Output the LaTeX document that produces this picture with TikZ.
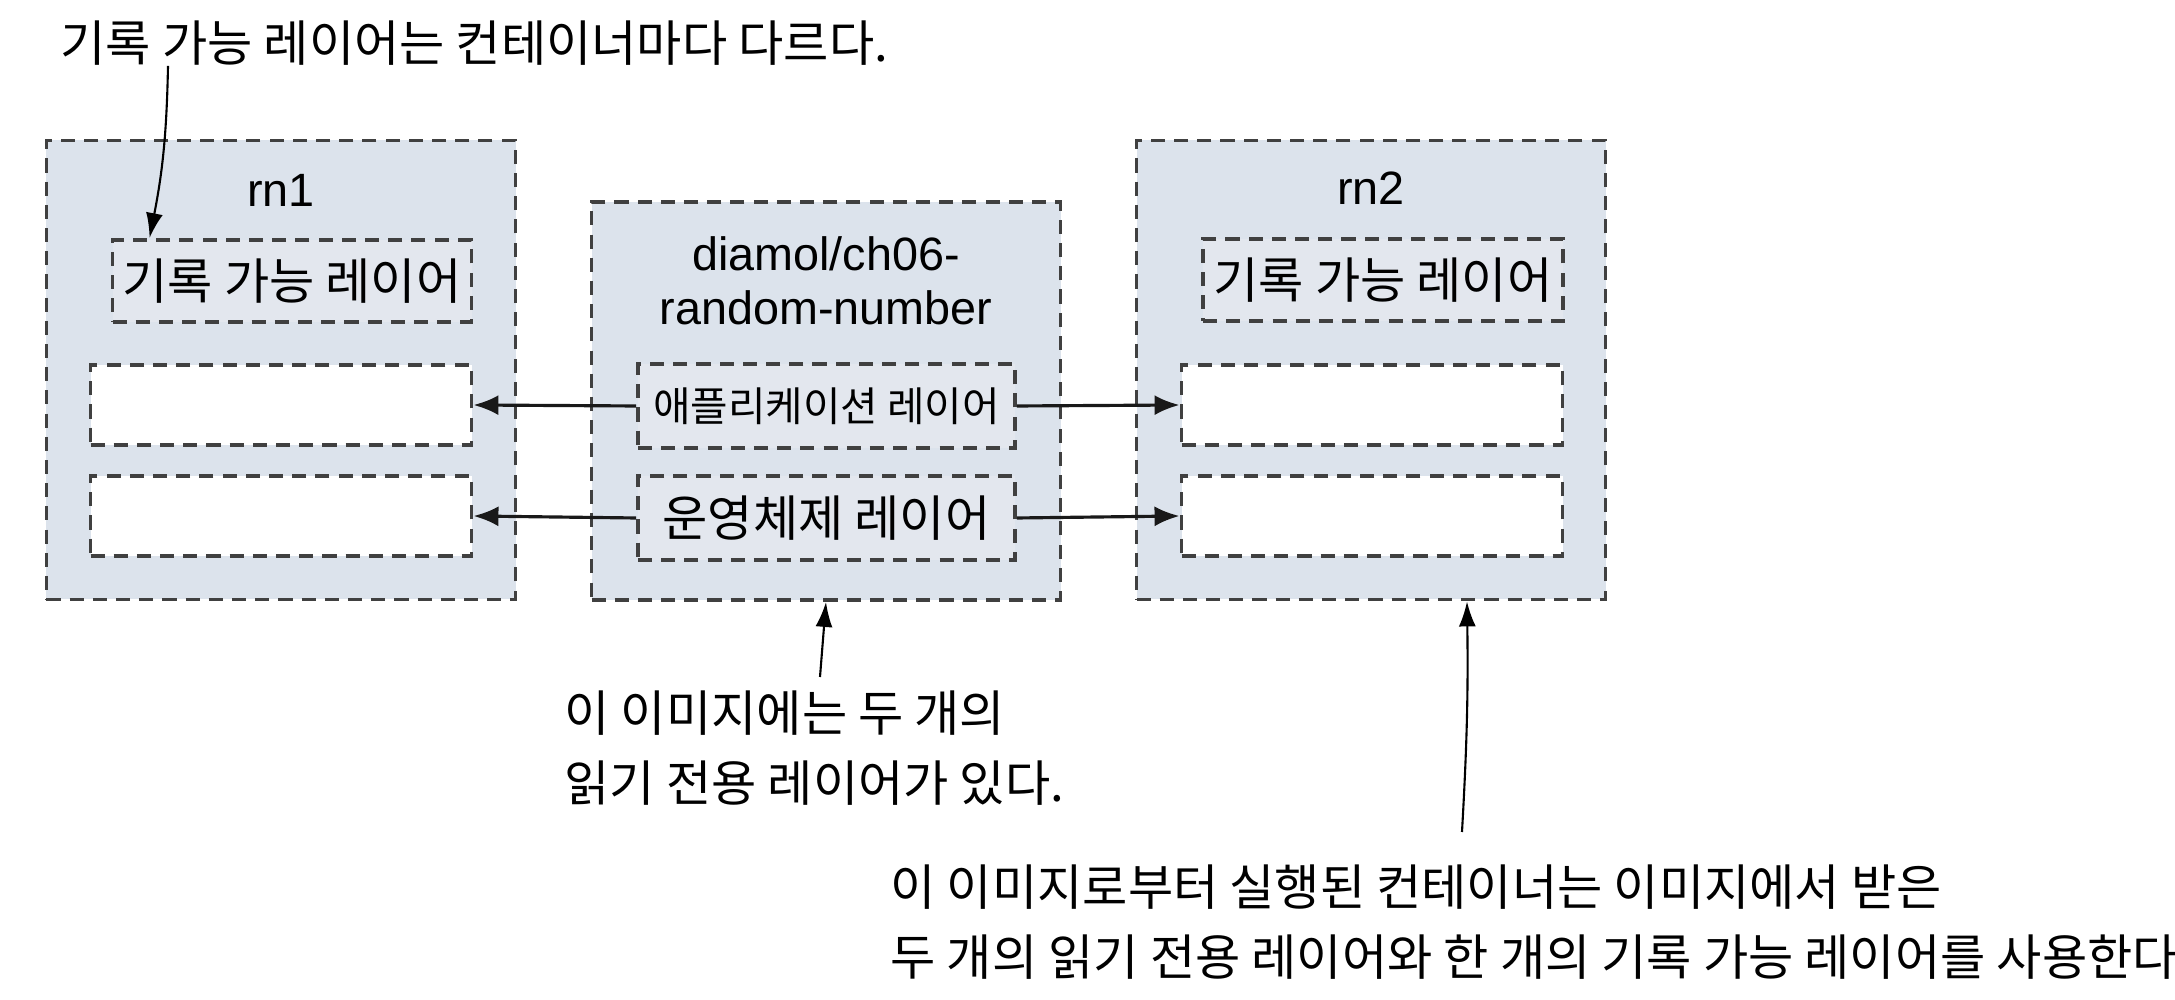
\documentclass[tikz,border=0pt]{standalone}
\usepackage{fontspec}
\setmainfont{Noto Sans CJK KR}
\newfontfamily\latfont{Liberation Sans}
\usetikzlibrary{arrows.meta}
\definecolor{boxblue}{HTML}{DCE3EC}
\definecolor{layerblue}{HTML}{E3E7EE}
\definecolor{dashgray}{HTML}{404040}

\begin{document}
\begin{tikzpicture}[x=1cm,y=-1cm,
		box/.style={draw=dashgray,dash pattern=on 4pt off 2.6pt,line width=1.1pt,inner sep=0pt},
		container/.style={box,fill=boxblue,minimum width=4.69cm,minimum height=4.59cm},
		layer/.style={box,fill=layerblue,minimum width=3.77cm,minimum height=0.84cm,
			font=\fontsize{14}{16}\selectfont},
		emptylayer/.style={box,fill=white,minimum width=3.81cm,minimum height=0.80cm},
		title/.style={align=center,font=\latfont\fontsize{13.3}{15.5}\selectfont},
		note/.style={inner sep=0pt,align=left,font=\fontsize{14}{20}\selectfont},
		link/.style={-{Latex[length=0.25cm,width=0.2cm]},line width=0.9pt,black!90},
		callout/.style={-{Latex[length=0.25cm,width=0.17cm]},line width=0.6pt}]
		\useasboundingbox (0,0) rectangle (21.75,10);
		
		\node[container] (rn1) at (2.81,3.70) {};
		\node[container,minimum height=3.98cm] (img) at (8.26,4.01) {};
		\node[container] (rn2) at (13.71,3.70) {};
		
		\node[title] (rn1t) at (2.81,1.90) {rn1};
		\node[title] (imgt) at (8.26,2.81) {diamol/ch06-\\random-number};
		\node[title] (rn2t) at (13.71,1.88) {rn2};
		
		\node[layer,minimum width=3.59cm,minimum height=0.82cm] (rn1w) at (2.92,2.81) {기록 가능 레이어};
		\node[emptylayer] (rn1a) at (2.81,4.05) {};
		\node[emptylayer] (rn1o) at (2.81,5.16) {};
		
		\node[layer,font=\fontsize{11.6}{13}\selectfont] (imga) at (8.265,4.06) {애플리케이션 레이어};
		\node[layer] (imgo) at (8.265,5.18) {운영체제 레이어};
		
		\node[layer,minimum width=3.60cm,minimum height=0.82cm] (rn2w) at (13.83,2.80) {기록 가능 레이어};
		\node[emptylayer] (rn2a) at (13.72,4.05) {};
		\node[emptylayer] (rn2o) at (13.72,5.16) {};
		
		\draw[link] (imga.west) -- (rn1a.east);
		\draw[link] (imgo.west) -- (rn1o.east);
		\draw[link] (imga.east) -- (rn2a.west);
		\draw[link] (imgo.east) -- (rn2o.west);
		
		\node[note,anchor=west] (notew) at (0.60,0.43) {기록 가능 레이어는 컨테이너마다 다르다.};
		\draw[callout] ([xshift=1.08cm]notew.south west) to[bend left=5] ([xshift=0.39cm]rn1w.north west);
		
		\node[note,anchor=north west] (noteimg) at (5.64,6.90)
			{이 이미지에는 두 개의\\읽기 전용 레이어가 있다.};
		\draw[callout] ([shift={(2.56cm,0.13cm)}]noteimg.north west) -- (img.south);
		
		\node[note,anchor=north west] (notectr) at (8.90,8.64)
			{이 이미지로부터 실행된 컨테이너는 이미지에서 받은\\두 개의 읽기 전용 레이어와 한 개의 기록 가능 레이어를 사용한다.};
		\draw[callout] ([shift={(5.72cm,0.32cm)}]notectr.north west) to[bend right=2] ([xshift=0.96cm]rn2.south);
\end{tikzpicture}
\end{document}
